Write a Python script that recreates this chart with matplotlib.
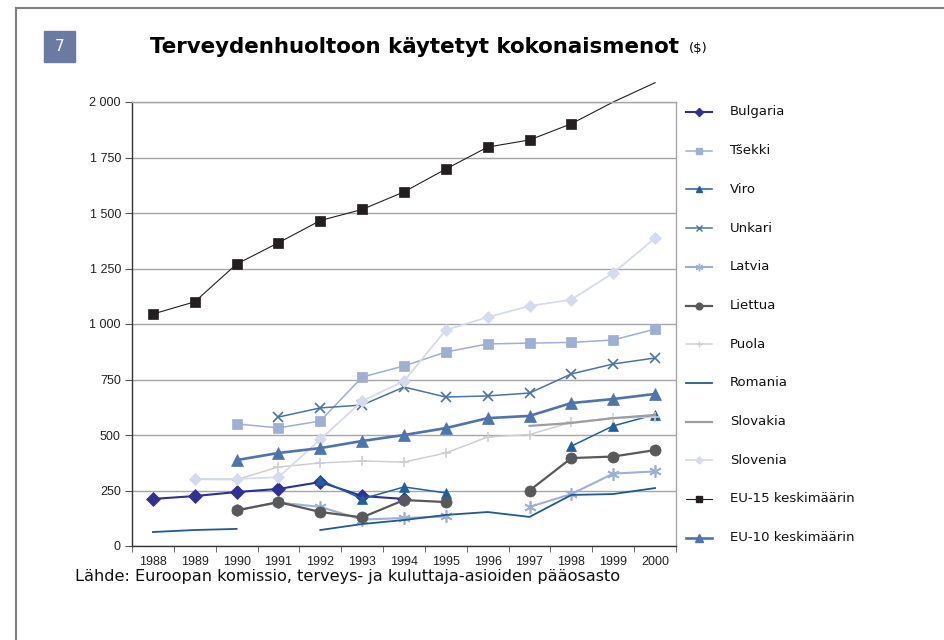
import matplotlib.pyplot as plt
import numpy as np
from matplotlib.lines import Line2D
from matplotlib.patches import Rectangle
from matplotlib.ticker import FuncFormatter

nan = np.nan

# data (US$), 1988-2000
years = [str(y) for y in range(1988, 2001)]

bulgaria = [212, 225, 243, 257, 288, 225, 212, nan, nan, nan, nan, nan, nan]
tsekki = [nan, nan, 550, 532, 563, 761, 811, 874, 910, 914, 917, 928, 977]
viro = [nan, nan, nan, nan, 297, 212, 266, 239, nan, nan, 450, 541, 592]
unkari = [nan, nan, nan, 581, 622, 635, 716, 671, 676, 689, 775, 820, 847]
latvia = [nan, nan, 162, 196, 176, 119, 126, 133, nan, 176, 234, 326, 336]
liettua = [nan, nan, 160, 198, 153, 129, 207, 198, nan, 250, 396, 403, 432]
puola = [nan, 300, 299, 356, 374, 383, 378, 419, 491, 502, 558, 576, 581]
romania = [63, 72, 77, nan, 72, 99, 117, 140, 153, 131, 230, 234, 261]
slovakia = [nan, nan, nan, nan, nan, nan, nan, nan, nan, 541, 554, 576, 590]
slovenia = [nan, 302, 302, 310, 480, 653, 743, 973, 1031, 1081, 1110, 1230, 1387]
eu15 = [1045, 1100, 1270, 1366, 1466, 1516, 1595, 1698, 1797, 1829, 1902, 2000, 2087]
eu10 = [nan, nan, 387, 419, 441, 473, 500, 531, 576, 586, 644, 662, 685]

labels = ['Bulgaria', 'Tšekki', 'Viro', 'Unkari', 'Latvia', 'Liettua', 'Puola',
          'Romania', 'Slovakia', 'Slovenia', 'EU-15 keskimäärin', 'EU-10 keskimäärin']

# label, values, color, marker, markersize, linewidth
series = [
    (labels[0], bulgaria, '#2e3192', 'D', 7, 1.5),
    (labels[1], tsekki, '#9dafd3', 's', 6.5, 1.1),
    (labels[2], viro, '#1f5f9f', '^', 6.5, 1.1),
    (labels[3], unkari, '#4a72ab', 'x', 7, 1.1),
    (labels[4], latvia, '#9cb0d6', (6, 2, 0), 9, 1.5),
    (labels[5], liettua, '#595959', 'o', 8, 1.6),
    (labels[6], puola, '#cfcfcf', '+', 7, 1.1),
    (labels[7], romania, '#1f5a96', None, 0, 1.3),
    (labels[8], slovakia, '#9e9e9e', None, 0, 1.6),
    (labels[9], slovenia, '#d5dbee', 'D', 6, 1.3),
    (labels[10], eu15, '#231f20', 's', 6.5, 0.8),
    (labels[11], eu10, '#4d74ad', '^', 8.5, 1.9),
]

fig = plt.figure(figsize=(9.44, 6.4), dpi=100)
W, H = 944, 640
ax = fig.add_axes([132 / W, 1 - 546 / H, (676 - 132) / W, (546 - 102) / H])

x = np.arange(len(years))
for name, vals, col, mk, ms, lw in series:
    vals = np.array(vals, dtype=float)
    kw = {}
    if name.startswith('EU-15'):
        # line runs above the plot top, markers only inside
        kw['markevery'] = [i for i, v in enumerate(vals) if v <= 1950]
        kw['clip_on'] = False
    ax.plot(x, vals, color=col, marker=mk, markersize=ms, lw=lw,
            markeredgecolor=col, markerfacecolor=col,
            markeredgewidth=1.2 if mk in ('x', '+', (6, 2, 0)) else 0.5, **kw)

ax.set_xlim(-0.5, len(years) - 0.5)
ax.set_ylim(0, 2000)
ax.set_yticks(np.arange(0, 2001, 250))
ax.yaxis.set_major_formatter(FuncFormatter(lambda v, p: f'{v:,.0f}'.replace(',', ' ')))
ax.yaxis.grid(True, color='#a6a6a6', lw=1)
ax.set_axisbelow(True)

ax.set_xticks(x, years)
ax.set_xticks(np.arange(-0.5, len(years)), minor=True)
ax.tick_params(axis='x', which='major', length=0, pad=7)
ax.tick_params(axis='x', which='minor', length=4, color='#555555', direction='out')
ax.tick_params(axis='y', length=5, color='#555555', pad=3)
for lab in ax.get_xticklabels() + ax.get_yticklabels():
    lab.set_fontfamily('Liberation Sans')
    lab.set_fontsize(9)
    lab.set_color('#222222')

for s in ('left', 'bottom'):
    ax.spines[s].set_color('#333333')
    ax.spines[s].set_linewidth(1)
for s in ('right', 'top'):
    ax.spines[s].set_color('#a6a6a6')
    ax.spines[s].set_linewidth(1)

# legend on the right
for i, (name, vals, col, mk, ms, lw) in enumerate(series):
    yy = 1 - (112 + i * 38.7) / H
    fig.add_artist(Line2D([686 / W, 712 / W], [yy, yy], color=col, lw=lw,
                          transform=fig.transFigure))
    if mk is not None:
        fig.add_artist(Line2D([699 / W], [yy], color=col, marker=mk,
                              markersize=ms * 0.6, markeredgewidth=1,
                              transform=fig.transFigure))
    fig.text(730 / W, yy, name, fontsize=9.5, va='center', ha='left', color='#111111')

# title and badge
fig.text(150 / W, 1 - 47 / H, 'Terveydenhuoltoon käytetyt kokonaismenot',
         fontsize=15.4, fontweight='bold', va='center', ha='left')
fig.text(689 / W, 1 - 48 / H, '($)', fontsize=9.5, va='center', ha='left')
fig.add_artist(Rectangle((44 / W, 1 - 62 / H), 31 / W, 31 / H, color='#6b7aa3',
                         transform=fig.transFigure))
fig.text(59.5 / W, 1 - 46.5 / H, '7', color='white', fontsize=11, ha='center', va='center')

fig.text(75 / W, 1 - 577 / H,
         'Lähde: Euroopan komissio, terveys- ja kuluttaja-asioiden pääosasto',
         fontsize=11.6, va='center', ha='left', color='#111111')

# outer frame
fig.add_artist(Line2D([16 / W, 1], [1 - 8 / H, 1 - 8 / H], color='#7f7f7f', lw=1.5,
                      transform=fig.transFigure))
fig.add_artist(Line2D([16 / W, 16 / W], [0, 1 - 8 / H], color='#7f7f7f', lw=1.5,
                      transform=fig.transFigure))

fig.savefig('out.png', dpi=100)
